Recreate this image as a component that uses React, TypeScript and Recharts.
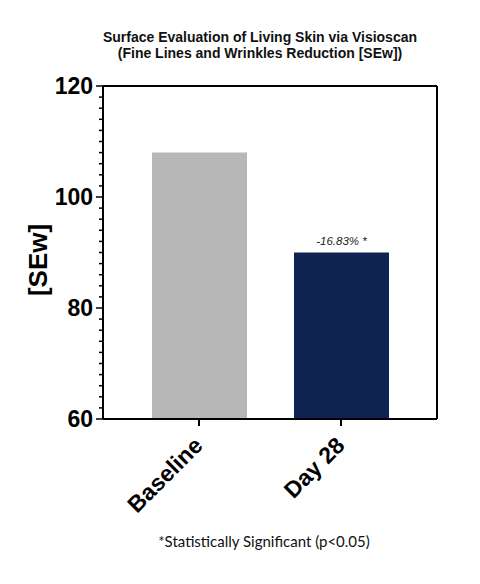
import React from 'react';
import { BarChart, Bar, XAxis, YAxis, Cell, LabelList } from 'recharts';

const categories = ['Baseline', 'Day 28'];
const seValues = [108, 90];
const barColors = ['#b7b7b7', '#0e2352'];
const changeLabels = ['', '-16.83% *'];
const yTicks = [60, 62, 64, 66, 68, 70, 72, 74, 76, 78, 80, 82, 84, 86, 88, 90, 92, 94, 96, 98, 100, 102, 104, 106, 108, 110, 112, 114, 116, 118, 120];
const yMajor = [60, 80, 100, 120];

const data = categories.map((name, i) => ({ name, value: seValues[i], label: changeLabels[i] }));

const FONT = 'Liberation Sans, Arial, Helvetica, sans-serif';

const YTick = (props: any) => {
  const { x, y, payload } = props;
  const major = yMajor.includes(payload.value);
  return (
    <g>
      <line x1={x} x2={x - (major ? 7 : 4)} y1={y} y2={y} stroke="#000" strokeWidth={1.5} />
      {major && (
        <text x={x - 10} y={y} textAnchor="end" dominantBaseline="central" fontFamily={FONT} fontWeight="bold" fontSize={23} fill="#000">
          {payload.value}
        </text>
      )}
    </g>
  );
};

const XTick = (props: any) => {
  const { x, y, payload } = props;
  const tx = x + 5;
  const ty = y + 28;
  return (
    <g>
      <line x1={x} x2={x} y1={y} y2={y + 7} stroke="#000" strokeWidth={2} />
      <text x={tx} y={ty} textAnchor="end" transform={`rotate(-45, ${tx}, ${ty})`} fontFamily={FONT} fontWeight="bold" fontSize={23} fill="#000">
        {payload.value}
      </text>
    </g>
  );
};

const BarLabel = (props: any) => {
  const { x, y, width, value } = props;
  if (!value) return null;
  return (
    <text x={x + width / 2} y={y - 8} textAnchor="middle" fontFamily={FONT} fontStyle="italic" fontSize={11.5} fill="#222">
      {value}
    </text>
  );
};

export default function App() {
  return (
    <div style={{ position: 'absolute', left: 0, top: 0, width: 480, height: 584, background: '#fff' }}>
      <div style={{ position: 'absolute', left: 0, width: 520, top: 29, textAlign: 'center', fontFamily: FONT, fontWeight: 'bold', fontSize: 14, lineHeight: '16px', color: '#111' }}>
        Surface Evaluation of Living Skin via Visioscan
        <br />
        (Fine Lines and Wrinkles Reduction [SEw])
      </div>
      <BarChart width={480} height={584} data={data} margin={{ top: 85, right: 42, bottom: 164, left: 0 }}>
        <XAxis dataKey="name" xAxisId="bottom" height={1} padding={{ left: 25, right: 25 }} tickSize={0} tickMargin={0} tick={<XTick />} axisLine={{ stroke: '#000', strokeWidth: 2 }} tickLine={false} interval={0} />
        <XAxis dataKey="name" xAxisId="top" orientation="top" height={1} tick={false} tickLine={false} axisLine={{ stroke: '#000', strokeWidth: 2 }} />
        <YAxis yAxisId="left" domain={[60, 120]} ticks={yTicks} interval={0} width={103} tickSize={0} tickMargin={0} tick={<YTick />} tickLine={false} axisLine={{ stroke: '#000', strokeWidth: 2 }} allowDataOverflow />
        <YAxis yAxisId="right" orientation="right" domain={[60, 120]} width={1} tick={false} tickLine={false} axisLine={{ stroke: '#000', strokeWidth: 2 }} />
        <Bar dataKey="value" xAxisId="bottom" yAxisId="left" barSize={95} isAnimationActive={false}>
          {data.map((d, i) => (
            <Cell key={d.name} fill={barColors[i]} />
          ))}
          <LabelList dataKey="label" content={<BarLabel />} />
        </Bar>
      </BarChart>
      <div style={{ position: 'absolute', left: 38, top: 260, width: 0, height: 0 }}>
        <div style={{ position: 'absolute', transform: 'translate(-50%, -50%) rotate(-90deg)', fontFamily: FONT, fontWeight: 'bold', fontSize: 26, whiteSpace: 'nowrap', color: '#000' }}>
          [SEw]
        </div>
      </div>
      <div style={{ position: 'absolute', left: 0, width: 528, top: 532, textAlign: 'center', fontFamily: 'Lato, sans-serif', fontSize: 15, color: '#111' }}>
        *Statistically Significant (p&lt;0.05)
      </div>
    </div>
  );
}
